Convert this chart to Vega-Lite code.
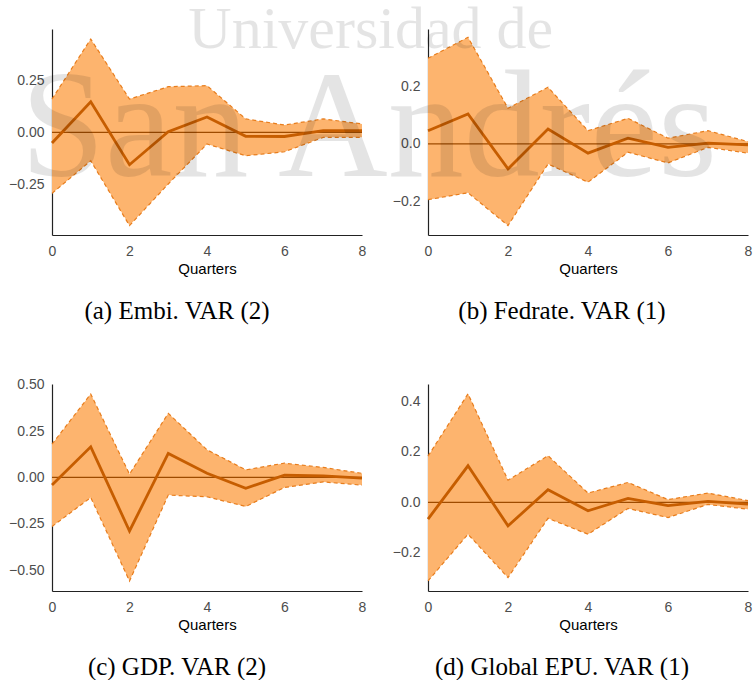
{
  "$schema": "https://vega.github.io/schema/vega-lite/v6.json",
  "padding": {"left": 8, "top": -1, "right": 0, "bottom": 0},
  "background": "white",
  "bounds": "flush",
  "columns": 2,
  "spacing": {"row": 149, "column": 66},
  "config": {
    "view": {"stroke": null},
    "axis": {
      "grid": false, "ticks": false, "domainColor": "#222222", "domainWidth": 1.2,
      "labelFont": "Liberation Sans", "labelFontSize": 14, "labelColor": "#4d4d4d",
      "titleFont": "Liberation Sans", "titleFontSize": 15, "titleColor": "#000000", "titleFontWeight": "normal",
      "labelFlush": false
    },
    "axisY": {"labelPadding": 8},
    "axisX": {"labelPadding": 9, "titlePadding": 3},
    "title": {"font": "Liberation Serif", "fontSize": 25, "fontWeight": "normal", "color": "#000000", "orient": "bottom", "frame": "group", "anchor": "middle", "baseline": "alphabetic", "offset": 23}
  },
  "datasets": {
    "irf": [
      {"panel": "a", "q": 0, "est": -0.051, "lo": -0.292, "hi": 0.159},
      {"panel": "a", "q": 1, "est": 0.146, "lo": -0.136, "hi": 0.446},
      {"panel": "a", "q": 2, "est": -0.155, "lo": -0.446, "hi": 0.159},
      {"panel": "a", "q": 3, "est": 0.003, "lo": -0.247, "hi": 0.218},
      {"panel": "a", "q": 4, "est": 0.073, "lo": -0.056, "hi": 0.223},
      {"panel": "a", "q": 5, "est": -0.019, "lo": -0.112, "hi": 0.064},
      {"panel": "a", "q": 6, "est": -0.020, "lo": -0.093, "hi": 0.035},
      {"panel": "a", "q": 7, "est": 0.008, "lo": -0.024, "hi": 0.064},
      {"panel": "a", "q": 8, "est": 0.008, "lo": -0.024, "hi": 0.040},
      {"panel": "b", "q": 0, "est": 0.046, "lo": -0.194, "hi": 0.298},
      {"panel": "b", "q": 1, "est": 0.104, "lo": -0.170, "hi": 0.371},
      {"panel": "b", "q": 2, "est": -0.087, "lo": -0.284, "hi": 0.124},
      {"panel": "b", "q": 3, "est": 0.052, "lo": -0.070, "hi": 0.197},
      {"panel": "b", "q": 4, "est": -0.032, "lo": -0.133, "hi": 0.046},
      {"panel": "b", "q": 5, "est": 0.020, "lo": -0.029, "hi": 0.089},
      {"panel": "b", "q": 6, "est": -0.012, "lo": -0.066, "hi": 0.020},
      {"panel": "b", "q": 7, "est": 0.003, "lo": -0.012, "hi": 0.046},
      {"panel": "b", "q": 8, "est": -0.003, "lo": -0.032, "hi": 0.008},
      {"panel": "c", "q": 0, "est": -0.041, "lo": -0.264, "hi": 0.179},
      {"panel": "c", "q": 1, "est": 0.165, "lo": -0.108, "hi": 0.449},
      {"panel": "c", "q": 2, "est": -0.288, "lo": -0.557, "hi": 0.018},
      {"panel": "c", "q": 3, "est": 0.129, "lo": -0.095, "hi": 0.345},
      {"panel": "c", "q": 4, "est": 0.023, "lo": -0.104, "hi": 0.149},
      {"panel": "c", "q": 5, "est": -0.058, "lo": -0.156, "hi": 0.041},
      {"panel": "c", "q": 6, "est": 0.012, "lo": -0.054, "hi": 0.077},
      {"panel": "c", "q": 7, "est": 0.009, "lo": -0.024, "hi": 0.054},
      {"panel": "c", "q": 8, "est": -0.004, "lo": -0.041, "hi": 0.022},
      {"panel": "d", "q": 0, "est": -0.066, "lo": -0.311, "hi": 0.183},
      {"panel": "d", "q": 1, "est": 0.145, "lo": -0.126, "hi": 0.430},
      {"panel": "d", "q": 2, "est": -0.093, "lo": -0.298, "hi": 0.088},
      {"panel": "d", "q": 3, "est": 0.050, "lo": -0.063, "hi": 0.185},
      {"panel": "d", "q": 4, "est": -0.033, "lo": -0.126, "hi": 0.037},
      {"panel": "d", "q": 5, "est": 0.016, "lo": -0.024, "hi": 0.079},
      {"panel": "d", "q": 6, "est": -0.013, "lo": -0.060, "hi": 0.011},
      {"panel": "d", "q": 7, "est": 0.004, "lo": -0.008, "hi": 0.037},
      {"panel": "d", "q": 8, "est": -0.007, "lo": -0.027, "hi": 0.007}
    ],
    "watermark": [
      {"line": "top", "label": "Universidad de", "q": -1.43, "v": 0.334},
      {"line": "bottom", "label": "San Andrés", "q": -1.48, "v": -0.111}
    ],
    "zero": [{"z": 0}]
  },
  "concat": [
    {
      "width": 310, "height": 206,
      "title": {"text": "(a) Embi. VAR (2)", "dx": -30},
      "layer": [
        {"data": {"name": "irf"}, "transform": [{"filter": "datum.panel === 'a'"}],
         "mark": {"type": "area", "color": "#fdb46e", "opacity": 1},
         "encoding": {
           "x": {"field": "q", "type": "quantitative", "scale": {"domain": [0, 8], "nice": false}, "axis": {"values": [0, 2, 4, 6, 8], "format": "d"}, "title": "Quarters"},
           "y": {"field": "lo", "type": "quantitative", "scale": {"domain": [-0.491, 0.494], "nice": false, "zero": false}, "axis": {"values": [-0.25, 0, 0.25], "format": ".2f"}, "title": null},
           "y2": {"field": "hi"}}},
        {"data": {"name": "irf"}, "transform": [{"filter": "datum.panel === 'a'"}],
         "mark": {"type": "line", "color": "#e87d1c", "strokeWidth": 1.2, "strokeDash": [4, 3]},
         "encoding": {"x": {"field": "q", "type": "quantitative", "title": "Quarters"}, "y": {"field": "hi", "type": "quantitative", "title": null}}},
        {"data": {"name": "irf"}, "transform": [{"filter": "datum.panel === 'a'"}],
         "mark": {"type": "line", "color": "#e87d1c", "strokeWidth": 1.2, "strokeDash": [4, 3]},
         "encoding": {"x": {"field": "q", "type": "quantitative", "title": "Quarters"}, "y": {"field": "lo", "type": "quantitative", "title": null}}},
        {"data": {"name": "zero"},
         "mark": {"type": "rule", "color": "#9e4b00", "strokeWidth": 1.2},
         "encoding": {"y": {"field": "z", "type": "quantitative", "title": null}}},
        {"data": {"name": "irf"}, "transform": [{"filter": "datum.panel === 'a'"}],
         "mark": {"type": "line", "color": "#c65d00", "strokeWidth": 2.8},
         "encoding": {"x": {"field": "q", "type": "quantitative", "title": "Quarters"}, "y": {"field": "est", "type": "quantitative", "title": null}}}
      ]
    },
    {
      "width": 320, "height": 206,
      "title": {"text": "(b) Fedrate. VAR (1)", "dx": -26},
      "layer": [
        {"data": {"name": "irf"}, "transform": [{"filter": "datum.panel === 'b'"}],
         "mark": {"type": "area", "color": "#fdb46e", "opacity": 1},
         "encoding": {
           "x": {"field": "q", "type": "quantitative", "scale": {"domain": [0, 8], "nice": false}, "axis": {"values": [0, 2, 4, 6, 8], "format": "d"}, "title": "Quarters"},
           "y": {"field": "lo", "type": "quantitative", "scale": {"domain": [-0.317, 0.4], "nice": false, "zero": false}, "axis": {"values": [-0.2, 0, 0.2], "format": ".1f"}, "title": null},
           "y2": {"field": "hi"}}},
        {"data": {"name": "irf"}, "transform": [{"filter": "datum.panel === 'b'"}],
         "mark": {"type": "line", "color": "#e87d1c", "strokeWidth": 1.2, "strokeDash": [4, 3]},
         "encoding": {"x": {"field": "q", "type": "quantitative", "title": "Quarters"}, "y": {"field": "hi", "type": "quantitative", "title": null}}},
        {"data": {"name": "irf"}, "transform": [{"filter": "datum.panel === 'b'"}],
         "mark": {"type": "line", "color": "#e87d1c", "strokeWidth": 1.2, "strokeDash": [4, 3]},
         "encoding": {"x": {"field": "q", "type": "quantitative", "title": "Quarters"}, "y": {"field": "lo", "type": "quantitative", "title": null}}},
        {"data": {"name": "zero"},
         "mark": {"type": "rule", "color": "#9e4b00", "strokeWidth": 1.2},
         "encoding": {"y": {"field": "z", "type": "quantitative", "title": null}}},
        {"data": {"name": "irf"}, "transform": [{"filter": "datum.panel === 'b'"}],
         "mark": {"type": "line", "color": "#c65d00", "strokeWidth": 2.8},
         "encoding": {"x": {"field": "q", "type": "quantitative", "title": "Quarters"}, "y": {"field": "est", "type": "quantitative", "title": null}}},
        {"data": {"name": "watermark"}, "transform": [{"filter": "datum.line === 'top'"}],
         "mark": {"type": "text", "font": "Liberation Serif", "fontSize": 60, "color": "#000000", "opacity": 0.1, "align": "center", "baseline": "alphabetic"},
         "encoding": {"x": {"field": "q", "type": "quantitative", "title": "Quarters"}, "y": {"field": "v", "type": "quantitative", "title": null}, "text": {"field": "label"}}},
        {"data": {"name": "watermark"}, "transform": [{"filter": "datum.line === 'bottom'"}],
         "mark": {"type": "text", "font": "Liberation Serif", "fontSize": 152, "color": "#000000", "opacity": 0.1, "align": "center", "baseline": "alphabetic"},
         "encoding": {"x": {"field": "q", "type": "quantitative", "title": "Quarters"}, "y": {"field": "v", "type": "quantitative", "title": null}, "text": {"field": "label"}}}
      ]
    },
    {
      "width": 310, "height": 207,
      "title": {"text": "(c) GDP. VAR (2)", "dx": -30},
      "layer": [
        {"data": {"name": "irf"}, "transform": [{"filter": "datum.panel === 'c'"}],
         "mark": {"type": "area", "color": "#fdb46e", "opacity": 1},
         "encoding": {
           "x": {"field": "q", "type": "quantitative", "scale": {"domain": [0, 8], "nice": false}, "axis": {"values": [0, 2, 4, 6, 8], "format": "d"}, "title": "Quarters"},
           "y": {"field": "lo", "type": "quantitative", "scale": {"domain": [-0.611, 0.503], "nice": false, "zero": false}, "axis": {"values": [-0.5, -0.25, 0, 0.25, 0.5], "format": ".2f"}, "title": null},
           "y2": {"field": "hi"}}},
        {"data": {"name": "irf"}, "transform": [{"filter": "datum.panel === 'c'"}],
         "mark": {"type": "line", "color": "#e87d1c", "strokeWidth": 1.2, "strokeDash": [4, 3]},
         "encoding": {"x": {"field": "q", "type": "quantitative", "title": "Quarters"}, "y": {"field": "hi", "type": "quantitative", "title": null}}},
        {"data": {"name": "irf"}, "transform": [{"filter": "datum.panel === 'c'"}],
         "mark": {"type": "line", "color": "#e87d1c", "strokeWidth": 1.2, "strokeDash": [4, 3]},
         "encoding": {"x": {"field": "q", "type": "quantitative", "title": "Quarters"}, "y": {"field": "lo", "type": "quantitative", "title": null}}},
        {"data": {"name": "zero"},
         "mark": {"type": "rule", "color": "#9e4b00", "strokeWidth": 1.2},
         "encoding": {"y": {"field": "z", "type": "quantitative", "title": null}}},
        {"data": {"name": "irf"}, "transform": [{"filter": "datum.panel === 'c'"}],
         "mark": {"type": "line", "color": "#c65d00", "strokeWidth": 2.8},
         "encoding": {"x": {"field": "q", "type": "quantitative", "title": "Quarters"}, "y": {"field": "est", "type": "quantitative", "title": null}}}
      ]
    },
    {
      "width": 320, "height": 207,
      "title": {"text": "(d) Global EPU. VAR (1)", "dx": -26},
      "layer": [
        {"data": {"name": "irf"}, "transform": [{"filter": "datum.panel === 'd'"}],
         "mark": {"type": "area", "color": "#fdb46e", "opacity": 1},
         "encoding": {
           "x": {"field": "q", "type": "quantitative", "scale": {"domain": [0, 8], "nice": false}, "axis": {"values": [0, 2, 4, 6, 8], "format": "d"}, "title": "Quarters"},
           "y": {"field": "lo", "type": "quantitative", "scale": {"domain": [-0.351, 0.469], "nice": false, "zero": false}, "axis": {"values": [-0.2, 0, 0.2, 0.4], "format": ".1f"}, "title": null},
           "y2": {"field": "hi"}}},
        {"data": {"name": "irf"}, "transform": [{"filter": "datum.panel === 'd'"}],
         "mark": {"type": "line", "color": "#e87d1c", "strokeWidth": 1.2, "strokeDash": [4, 3]},
         "encoding": {"x": {"field": "q", "type": "quantitative", "title": "Quarters"}, "y": {"field": "hi", "type": "quantitative", "title": null}}},
        {"data": {"name": "irf"}, "transform": [{"filter": "datum.panel === 'd'"}],
         "mark": {"type": "line", "color": "#e87d1c", "strokeWidth": 1.2, "strokeDash": [4, 3]},
         "encoding": {"x": {"field": "q", "type": "quantitative", "title": "Quarters"}, "y": {"field": "lo", "type": "quantitative", "title": null}}},
        {"data": {"name": "zero"},
         "mark": {"type": "rule", "color": "#9e4b00", "strokeWidth": 1.2},
         "encoding": {"y": {"field": "z", "type": "quantitative", "title": null}}},
        {"data": {"name": "irf"}, "transform": [{"filter": "datum.panel === 'd'"}],
         "mark": {"type": "line", "color": "#c65d00", "strokeWidth": 2.8},
         "encoding": {"x": {"field": "q", "type": "quantitative", "title": "Quarters"}, "y": {"field": "est", "type": "quantitative", "title": null}}}
      ]
    }
  ]
}
